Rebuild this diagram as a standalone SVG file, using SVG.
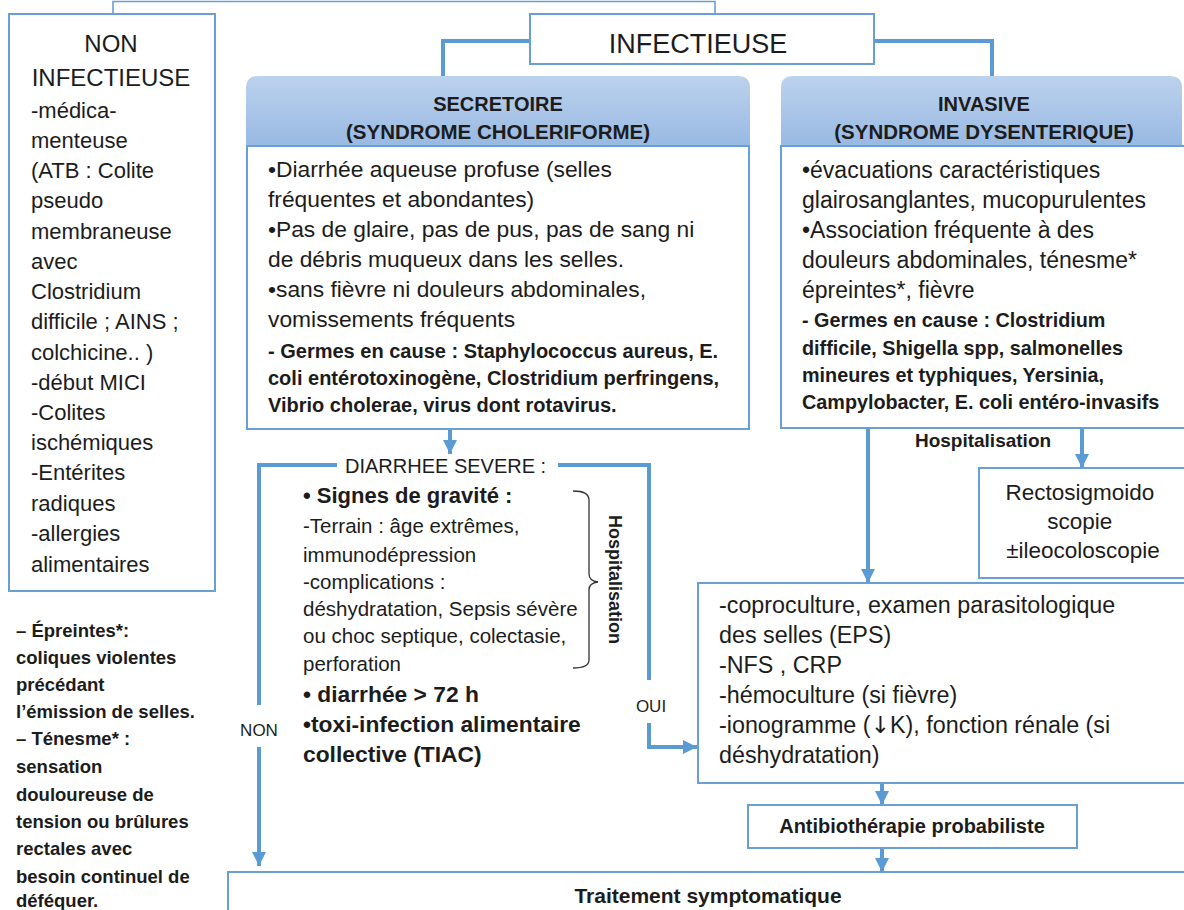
<svg xmlns="http://www.w3.org/2000/svg" width="1184" height="910" viewBox="0 0 1184 910">
<style>
.t{font-family:"Liberation Sans",Arial,sans-serif;fill:#1c1c1c}
.b{font-weight:bold}
.box{fill:#fff;stroke:#6a9fd6;stroke-width:2}
.hdr{fill:url(#hg);stroke:none}
.ln{fill:none;stroke:#5b9bd5;stroke-width:4}
.thin{fill:none;stroke:#6a9fd6;stroke-width:1.6}
.br{fill:none;stroke:#333;stroke-width:1.3}
.sym{font-family:"DejaVu Sans",sans-serif}
</style>
<defs>
<linearGradient id="hg" x1="0" y1="0" x2="0" y2="1">
<stop offset="0" stop-color="#bcd2ee"/>
<stop offset="1" stop-color="#98b9e2"/>
</linearGradient>
<marker id="ah" viewBox="0 0 10 10" refX="10" refY="5" markerWidth="14" markerHeight="14" markerUnits="userSpaceOnUse" orient="auto">
<path d="M0,0 L10,5 L0,10 z" fill="#5b9bd5"/>
</marker>
</defs>

<g id="connectors">
<path class="thin" d="M113,14 V1.5 H715 V14"/>
<path class="ln" stroke-width="5" d="M530,41 H443 V76"/>
<path class="ln" stroke-width="5" d="M874,41 H992 V76"/>
<path class="ln" d="M450,430 V454" marker-end="url(#ah)"/>
<path class="ln" d="M337,465 H259 V705"/>
<path class="ln" d="M259,747 V866" marker-end="url(#ah)"/>
<path class="ln" d="M558,465 H649 V680"/>
<path class="ln" d="M649,723 V747 H697" marker-end="url(#ah)"/>
<path class="ln" d="M868,428 V583" marker-end="url(#ah)"/>
<path class="ln" d="M1082,428 V468" marker-end="url(#ah)"/>
<path class="ln" d="M882,784 V805" marker-end="url(#ah)"/>
<path class="ln" d="M882,849 V872" marker-end="url(#ah)"/>
</g>

<g id="non-infectieuse">
<rect class="box" x="9" y="14" width="206" height="577"/>
<text class="t" x="111" y="52" font-size="24" text-anchor="middle">NON</text>
<text class="t" x="111" y="86" font-size="24" text-anchor="middle">INFECTIEUSE</text>
<text class="t" font-size="22" x="31">
<tspan x="31" y="118">-médica-</tspan>
<tspan x="31" y="148">menteuse</tspan>
<tspan x="31" y="178">(ATB : Colite</tspan>
<tspan x="31" y="208">pseudo</tspan>
<tspan x="31" y="239">membraneuse</tspan>
<tspan x="31" y="269">avec</tspan>
<tspan x="31" y="299">Clostridium</tspan>
<tspan x="31" y="329">difficile ; AINS ;</tspan>
<tspan x="31" y="360">colchicine.. )</tspan>
<tspan x="31" y="390">-début MICI</tspan>
<tspan x="31" y="420">-Colites</tspan>
<tspan x="31" y="450">ischémiques</tspan>
<tspan x="31" y="480">-Entérites</tspan>
<tspan x="31" y="511">radiques</tspan>
<tspan x="31" y="541">-allergies</tspan>
<tspan x="31" y="572">alimentaires</tspan>
</text>
</g>

<g id="infectieuse">
<rect class="box" x="530" y="14" width="344" height="50"/>
<text class="t" x="698" y="53" font-size="27" text-anchor="middle">INFECTIEUSE</text>
</g>

<g id="secretoire">
<path class="hdr" d="M246,146 V88 Q246,76 258,76 H738 Q750,76 750,88 V146 Z"/>
<text class="t b" x="498" y="111" font-size="20" text-anchor="middle">SECRETOIRE</text>
<text class="t b" x="498" y="139" font-size="20.5" text-anchor="middle">(SYNDROME CHOLERIFORME)</text>
<rect class="box" x="247" y="146" width="502" height="283"/>
<text class="t" font-size="22.8">
<tspan x="268" y="177">•Diarrhée aqueuse profuse (selles</tspan>
<tspan x="268" y="207">fréquentes et abondantes)</tspan>
<tspan x="268" y="237">•Pas de glaire, pas de pus, pas de sang ni</tspan>
<tspan x="268" y="267">de débris muqueux dans les selles.</tspan>
<tspan x="268" y="297">•sans fièvre ni douleurs abdominales,</tspan>
<tspan x="268" y="327">vomissements fréquents</tspan>
</text>
<text class="t b" font-size="20">
<tspan x="268" y="358">- Germes en cause : Staphylococcus aureus, E.</tspan>
<tspan x="268" y="385">coli entérotoxinogène, Clostridium perfringens,</tspan>
<tspan x="268" y="412">Vibrio cholerae, virus dont rotavirus.</tspan>
</text>
</g>

<g id="invasive">
<path class="hdr" d="M781,146 V88 Q781,76 793,76 H1170 Q1182,76 1182,88 V146 Z"/>
<text class="t b" x="984" y="111" font-size="20" text-anchor="middle">INVASIVE</text>
<text class="t b" x="984" y="139" font-size="20.5" text-anchor="middle">(SYNDROME DYSENTERIQUE)</text>
<rect class="box" x="781" y="146" width="410" height="282"/>
<text class="t" font-size="23">
<tspan x="802" y="178">•évacuations caractéristiques</tspan>
<tspan x="802" y="208">glairosanglantes, mucopurulentes</tspan>
<tspan x="802" y="238">•Association fréquente à des</tspan>
<tspan x="802" y="268">douleurs abdominales, ténesme*</tspan>
<tspan x="802" y="298">épreintes*, fièvre</tspan>
</text>
<text class="t b" font-size="19.8">
<tspan x="802" y="327">- Germes en cause : Clostridium</tspan>
<tspan x="802" y="355">difficile, Shigella spp, salmonelles</tspan>
<tspan x="802" y="382">mineures et typhiques, Yersinia,</tspan>
<tspan x="802" y="409">Campylobacter, E. coli entéro-invasifs</tspan>
</text>
</g>

<g id="hospitalisation-label">
<text class="t b" x="983" y="447" font-size="19" text-anchor="middle">Hospitalisation</text>
</g>

<g id="rectosigmoido">
<rect class="box" x="979" y="468" width="212" height="110"/>
<text class="t" font-size="22.5" text-anchor="middle">
<tspan x="1083" y="500">Rectosigmoido</tspan>
<tspan x="1083" y="529">scopie</tspan>
<tspan x="1083" y="558">±ileocoloscopie</tspan>
</text>
</g>

<g id="diarrhee-severe">
<text class="t" x="345" y="473" font-size="20">DIARRHEE SEVERE :</text>
<text class="t b" x="303" y="503" font-size="22">• Signes de gravité :</text>
<text class="t" font-size="20.5">
<tspan x="303" y="533">-Terrain : âge extrêmes,</tspan>
<tspan x="303" y="562">immunodépression</tspan>
<tspan x="303" y="589">-complications :</tspan>
<tspan x="303" y="616">déshydratation, Sepsis sévère</tspan>
<tspan x="303" y="643">ou choc septique, colectasie,</tspan>
<tspan x="303" y="671">perforation</tspan>
</text>
<text class="t b" font-size="22.8">
<tspan x="303" y="702">• diarrhée &gt; 72 h</tspan>
<tspan x="303" y="732">•toxi-infection alimentaire</tspan>
<tspan x="303" y="762">collective (TIAC)</tspan>
</text>
<path class="br" d="M573,491 Q589,491 589,500 V574 Q589,581 598,582 Q589,583 589,590 V660 Q589,668 573,668"/>
<text class="t b" font-size="18" transform="translate(609,515) rotate(90)">Hospitalisation</text>
</g>

<g id="labels">
<text class="t" x="259" y="736" font-size="17" text-anchor="middle">NON</text>
<text class="t" x="651" y="712" font-size="17" text-anchor="middle">OUI</text>
</g>

<g id="examens">
<rect class="box" x="698" y="583" width="495" height="200"/>
<text class="t" font-size="23.3">
<tspan x="719" y="613">-coproculture, examen parasitologique</tspan>
<tspan x="719" y="643">des selles (EPS)</tspan>
<tspan x="719" y="673">-NFS , CRP</tspan>
<tspan x="719" y="703">-hémoculture (si fièvre)</tspan>
<tspan x="719" y="733">-ionogramme (<tspan class="sym">↓</tspan>K), fonction rénale (si</tspan>
<tspan x="719" y="763">déshydratation)</tspan>
</text>
</g>

<g id="antibiotherapie">
<rect class="box" x="748" y="805" width="329" height="43"/>
<text class="t b" x="912" y="833" font-size="20" text-anchor="middle">Antibiothérapie probabiliste</text>
</g>

<g id="traitement">
<rect class="box" x="228" y="872" width="965" height="50"/>
<text class="t b" x="708" y="903" font-size="21" text-anchor="middle">Traitement symptomatique</text>
</g>

<g id="notes">
<text class="t b" font-size="18.5">
<tspan x="16" y="637">– Épreintes*:</tspan>
<tspan x="16" y="664">coliques violentes</tspan>
<tspan x="16" y="691">précédant</tspan>
<tspan x="16" y="718">l’émission de selles.</tspan>
<tspan x="16" y="745">– Ténesme* :</tspan>
<tspan x="16" y="773">sensation</tspan>
<tspan x="16" y="801">douloureuse de</tspan>
<tspan x="16" y="828">tension ou brûlures</tspan>
<tspan x="16" y="855">rectales avec</tspan>
<tspan x="16" y="883">besoin continuel de</tspan>
<tspan x="16" y="907">déféquer.</tspan>
</text>
</g>
</svg>
